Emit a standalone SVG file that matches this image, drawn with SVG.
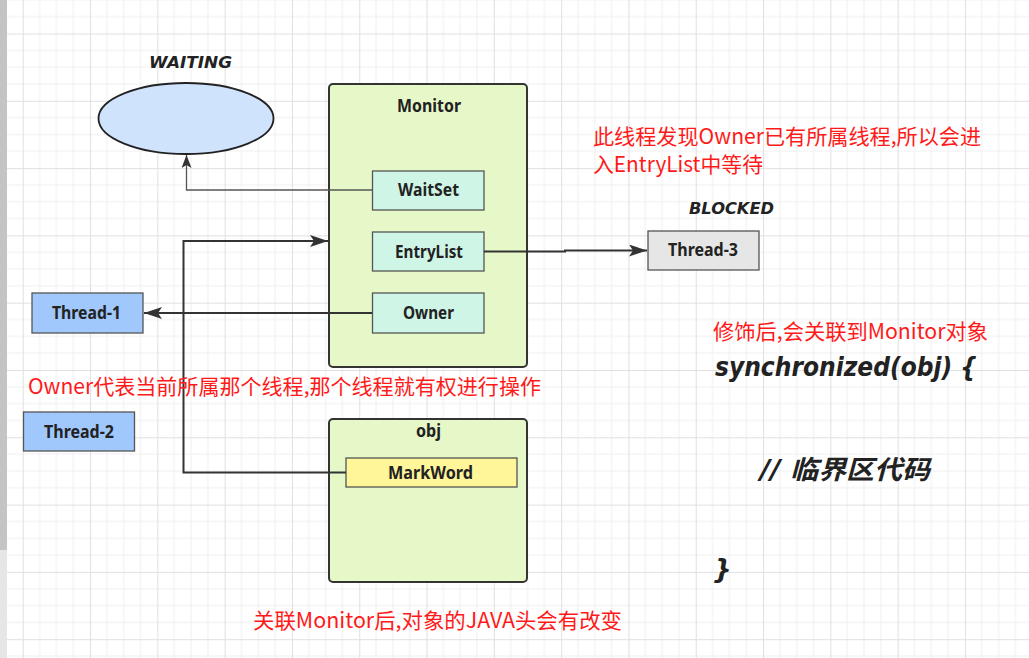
<svg xmlns="http://www.w3.org/2000/svg" width="1029" height="658" viewBox="0 0 1029 658">
<defs>
  <pattern id="grid" patternUnits="userSpaceOnUse" x="22.75" y="33.5" width="67.3" height="67.3">
    <path d="M16.825,0V67.3M33.65,0V67.3M50.475,0V67.3M0,16.825H67.3M0,33.65H67.3M0,50.475H67.3" stroke="#efefef" stroke-width="1" fill="none"/>
    <path d="M0.5,0V67.3M0,0.5H67.3" stroke="#e0e0e0" stroke-width="1" fill="none"/>
  </pattern>
  <marker id="arrowBig" markerUnits="userSpaceOnUse" viewBox="0 0 18 12" refX="18" refY="6" markerWidth="18" markerHeight="12" orient="auto">
    <path d="M0,0 L18,6 L0,12 L4,6 Z" fill="#333"/>
  </marker>
  <marker id="arrowSmall" markerUnits="userSpaceOnUse" viewBox="0 0 13 10" refX="13" refY="5" markerWidth="13" markerHeight="10" orient="auto">
    <path d="M0,0 L13,5 L0,10 L3,5 Z" fill="#333"/>
  </marker>
</defs>
<style>
  .lbl { font-family: "Noto Sans", "Open Sans", "DejaVu Sans", sans-serif; font-weight: bold; font-size: 17px; fill: #222; text-anchor: middle; }
  .state { font-family: "DejaVu Sans", "Noto Sans", sans-serif; font-weight: bold; font-style: italic; font-size: 16px; fill: #222; text-anchor: middle; }
  .red { font-family: "Noto Sans CJK SC", "Noto Sans", sans-serif; font-size: 21px; fill: #ff1a1a; }
  .code { font-family: "DejaVu Sans", "Noto Sans CJK SC", sans-serif; font-weight: bold; font-style: italic; font-size: 26px; fill: #222; }
  .box { stroke: #333; stroke-width: 2; }
  .item { stroke: #555; stroke-width: 1.3; }
  .conn { fill: none; stroke: #333; stroke-width: 2; }
  .thin { fill: none; stroke: #555; stroke-width: 1.3; }
</style>
<rect x="0" y="0" width="1029" height="658" fill="#ffffff"/>
<rect x="0" y="0" width="1029" height="658" fill="url(#grid)"/>
<rect x="0" y="0" width="7" height="550" fill="#c4c4c4"/>
<rect x="0" y="550" width="7" height="108" fill="#e6e6e6"/>

<g id="waiting">
  <ellipse cx="186" cy="118.5" rx="87.5" ry="35.5" fill="#cfe3fc" stroke="#222" stroke-width="1.8"/>
  <text class="state" x="190.5" y="68" textLength="83" lengthAdjust="spacingAndGlyphs">WAITING</text>
</g>

<g id="monitor">
  <rect class="box" x="329" y="84" width="198" height="283" rx="4" fill="#e7f8c8"/>
  <text class="lbl" x="429" y="112" textLength="64" lengthAdjust="spacingAndGlyphs">Monitor</text>
</g>
<g id="waitset">
  <rect class="item" x="372.5" y="171" width="111.5" height="39" fill="#cff5e6"/>
  <text class="lbl" x="428.5" y="196" textLength="61" lengthAdjust="spacingAndGlyphs">WaitSet</text>
</g>
<g id="entrylist">
  <rect class="item" x="372.5" y="232" width="111.5" height="39" fill="#cff5e6"/>
  <text class="lbl" x="429" y="258" textLength="68" lengthAdjust="spacingAndGlyphs">EntryList</text>
</g>
<g id="owner">
  <rect class="item" x="372.5" y="293" width="111.5" height="40" fill="#cff5e6"/>
  <text class="lbl" x="428.5" y="318.5" textLength="51" lengthAdjust="spacingAndGlyphs">Owner</text>
</g>

<g id="thread3">
  <rect class="item" x="648" y="231" width="111" height="39" fill="#e6e6e6"/>
  <text class="lbl" x="703" y="256" textLength="70" lengthAdjust="spacingAndGlyphs">Thread-3</text>
  <text class="state" x="731.5" y="214" textLength="85" lengthAdjust="spacingAndGlyphs">BLOCKED</text>
</g>

<g id="thread1">
  <rect class="item" x="32" y="293" width="111" height="40" fill="#a0c8fd"/>
  <text class="lbl" x="86.5" y="319" textLength="69" lengthAdjust="spacingAndGlyphs">Thread-1</text>
</g>
<g id="thread2">
  <rect class="item" x="23.5" y="412" width="111" height="39" fill="#a0c8fd"/>
  <text class="lbl" x="79" y="437.5" textLength="70" lengthAdjust="spacingAndGlyphs">Thread-2</text>
</g>

<g id="obj">
  <rect class="box" x="329" y="419" width="198" height="163" rx="4" fill="#e7f8c8"/>
  <text class="lbl" x="428.5" y="437" textLength="25" lengthAdjust="spacingAndGlyphs">obj</text>
</g>
<g id="markword">
  <rect class="item" x="346" y="458" width="171" height="29" fill="#fff599"/>
  <text class="lbl" x="430.5" y="479" textLength="85" lengthAdjust="spacingAndGlyphs">MarkWord</text>
</g>

<g id="connectors">
  <path class="thin" d="M372,190 H186.5 V155" marker-end="url(#arrowSmall)"/>
  <path class="conn" d="M484,251.5 H565 V250.5 H647" marker-end="url(#arrowBig)"/>
  <path class="conn" d="M372,313 H144" marker-end="url(#arrowBig)"/>
  <path class="conn" d="M346,472.5 H183.5 V241 H328" marker-end="url(#arrowBig)"/>
</g>

<g id="notes">
  <text class="red" x="593" y="144" textLength="388" lengthAdjust="spacingAndGlyphs">此线程发现Owner已有所属线程,所以会进</text>
  <text class="red" x="593" y="172" textLength="170" lengthAdjust="spacingAndGlyphs">入EntryList中等待</text>
  <text class="red" x="28" y="394" textLength="513" lengthAdjust="spacingAndGlyphs">Owner代表当前所属那个线程,那个线程就有权进行操作</text>
  <text class="red" x="713" y="339" textLength="275" lengthAdjust="spacingAndGlyphs">修饰后,会关联到Monitor对象</text>
  <text class="red" x="253" y="628" textLength="369" lengthAdjust="spacingAndGlyphs">关联Monitor后,对象的JAVA头会有改变</text>
</g>

<g id="code">
  <text class="code" x="715" y="376" textLength="262" lengthAdjust="spacingAndGlyphs">synchronized(obj) {</text>
  <text class="code" x="760" y="479" font-size="25" textLength="170" lengthAdjust="spacingAndGlyphs">// 临界区代码</text>
  <text class="code" x="713" y="578">}</text>
</g>
</svg>
